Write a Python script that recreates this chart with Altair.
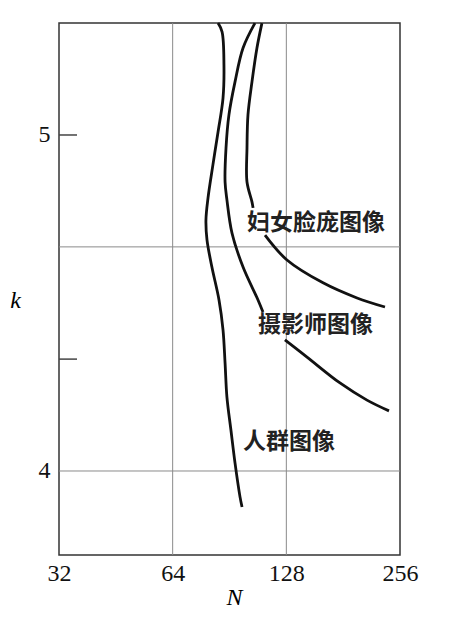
import altair as alt
import pandas as pd

# ---- data ----
crowd_N = [84.4, 86.5, 87.5, 87.0, 84.4, 81.8, 79.4, 78.4, 78.9, 81.3, 84.9, 87.0, 88.1, 89.1, 91.3, 93.6, 96.5, 97.7]
crowd_k = [5.333, 5.307, 5.208, 5.110, 5.009, 4.911, 4.813, 4.747, 4.688, 4.607, 4.509, 4.420, 4.321, 4.220, 4.122, 4.024, 3.923, 3.893]

photo1_N = [105.7, 98.3, 93.6, 90.2, 88.6, 88.1, 89.1, 91.9, 98.3, 107.7, 111.0]
photo1_k = [5.333, 5.259, 5.158, 5.060, 4.961, 4.860, 4.807, 4.708, 4.607, 4.509, 4.473]
photo2_N = [126.9, 145.2, 177.5, 209.3, 239.4]
photo2_k = [4.390, 4.339, 4.262, 4.211, 4.179]

face1_N = [110.3, 107.0, 103.8, 101.3, 100.7, 100.7, 103.8, 104.5]
face1_k = [5.333, 5.259, 5.158, 5.060, 4.961, 4.860, 4.801, 4.783]
face2_N = [112.4, 128.5, 160.1, 197.0, 233.6]
face2_k = [4.702, 4.628, 4.560, 4.515, 4.488]

label_text = ["妇女脸庞图像", "摄影师图像", "人群图像"]
label_N = [100.7, 107.7, 98.3]
label_k = [4.738, 4.435, 4.086]

x_ticks = [32, 64, 128, 256]
y_ticks = [4, 5]
x_grid = [64, 128]
y_grid = [4, 4.667]
y_inner_ticks = [5, 4.333]

# ---- tables ----
rows = []
for seg, (ns, ks) in {
    "crowd": (crowd_N, crowd_k),
    "photo1": (photo1_N, photo1_k),
    "photo2": (photo2_N, photo2_k),
    "face1": (face1_N, face1_k),
    "face2": (face2_N, face2_k),
}.items():
    for i, (n, k) in enumerate(zip(ns, ks)):
        rows.append({"N": n, "k": k, "seg": seg, "idx": i})
curves = pd.DataFrame(rows)
labels = pd.DataFrame({"t": label_text, "N": label_N, "k": label_k})
xg = pd.DataFrame({"N": x_grid})
yg = pd.DataFrame({"k": y_grid})
yt = pd.DataFrame({"k": y_inner_ticks})

xscale = alt.Scale(type="log", base=2, domain=[32, 256], nice=False)
yscale = alt.Scale(domain=[3.75, 5.3333], nice=False, zero=False)

xaxis = alt.Axis(values=x_ticks, format="d", grid=False, ticks=False, domain=False,
                 labelPadding=6, labelFlush=False, title="N", titleFont="Liberation Serif",
                 titleFontStyle="italic", titleFontWeight="normal", titleFontSize=24,
                 titleX=175, titleY=42, titleBaseline="middle", titleAlign="center")
yaxis = alt.Axis(values=y_ticks, format="d", grid=False, ticks=False, domain=False,
                 labelPadding=9, labelFlush=False, title="k", titleAngle=0, titleFont="Liberation Serif",
                 titleFontStyle="italic", titleFontWeight="normal", titleFontSize=24,
                 titleX=-44, titleY=277, titleBaseline="middle", titleAlign="center")

base_x = alt.X("N:Q", scale=xscale, axis=xaxis)
base_y = alt.Y("k:Q", scale=yscale, axis=yaxis)

grid_x = alt.Chart(xg).mark_rule(color="#8a8a8a", strokeWidth=1).encode(x=alt.X("N:Q", scale=xscale))
grid_y = alt.Chart(yg).mark_rule(color="#8a8a8a", strokeWidth=1).encode(y=alt.Y("k:Q", scale=yscale))
inner_ticks = alt.Chart(yt).mark_rule(color="#444444", strokeWidth=1.5).encode(
    y=alt.Y("k:Q", scale=yscale), x=alt.value(0), x2=alt.value(18))

lines = alt.Chart(curves).mark_line(color="#111111", strokeWidth=2.8, interpolate="catmull-rom").encode(
    x=base_x, y=base_y, detail="seg:N", order="idx:Q")

texts = alt.Chart(labels).mark_text(align="left", baseline="middle", font="Noto Sans CJK SC",
                                    fontSize=23, fontWeight="bold", color="#222222").encode(
    x=alt.X("N:Q", scale=xscale), y=alt.Y("k:Q", scale=yscale), text="t:N")

chart = alt.layer(grid_x, grid_y, inner_ticks, lines, texts).properties(
    width=341, height=532,
    autosize=alt.AutoSizeParams(type="none"),
    padding={"left": 51, "top": 15, "right": 30, "bottom": 62},
).configure_view(stroke="#333333", strokeWidth=1.5).configure_axis(
    labelFont="Liberation Serif", labelFontSize=24, labelColor="#111111"
)

chart.save("out.html", embed_options={"renderer": "svg", "actions": False})
